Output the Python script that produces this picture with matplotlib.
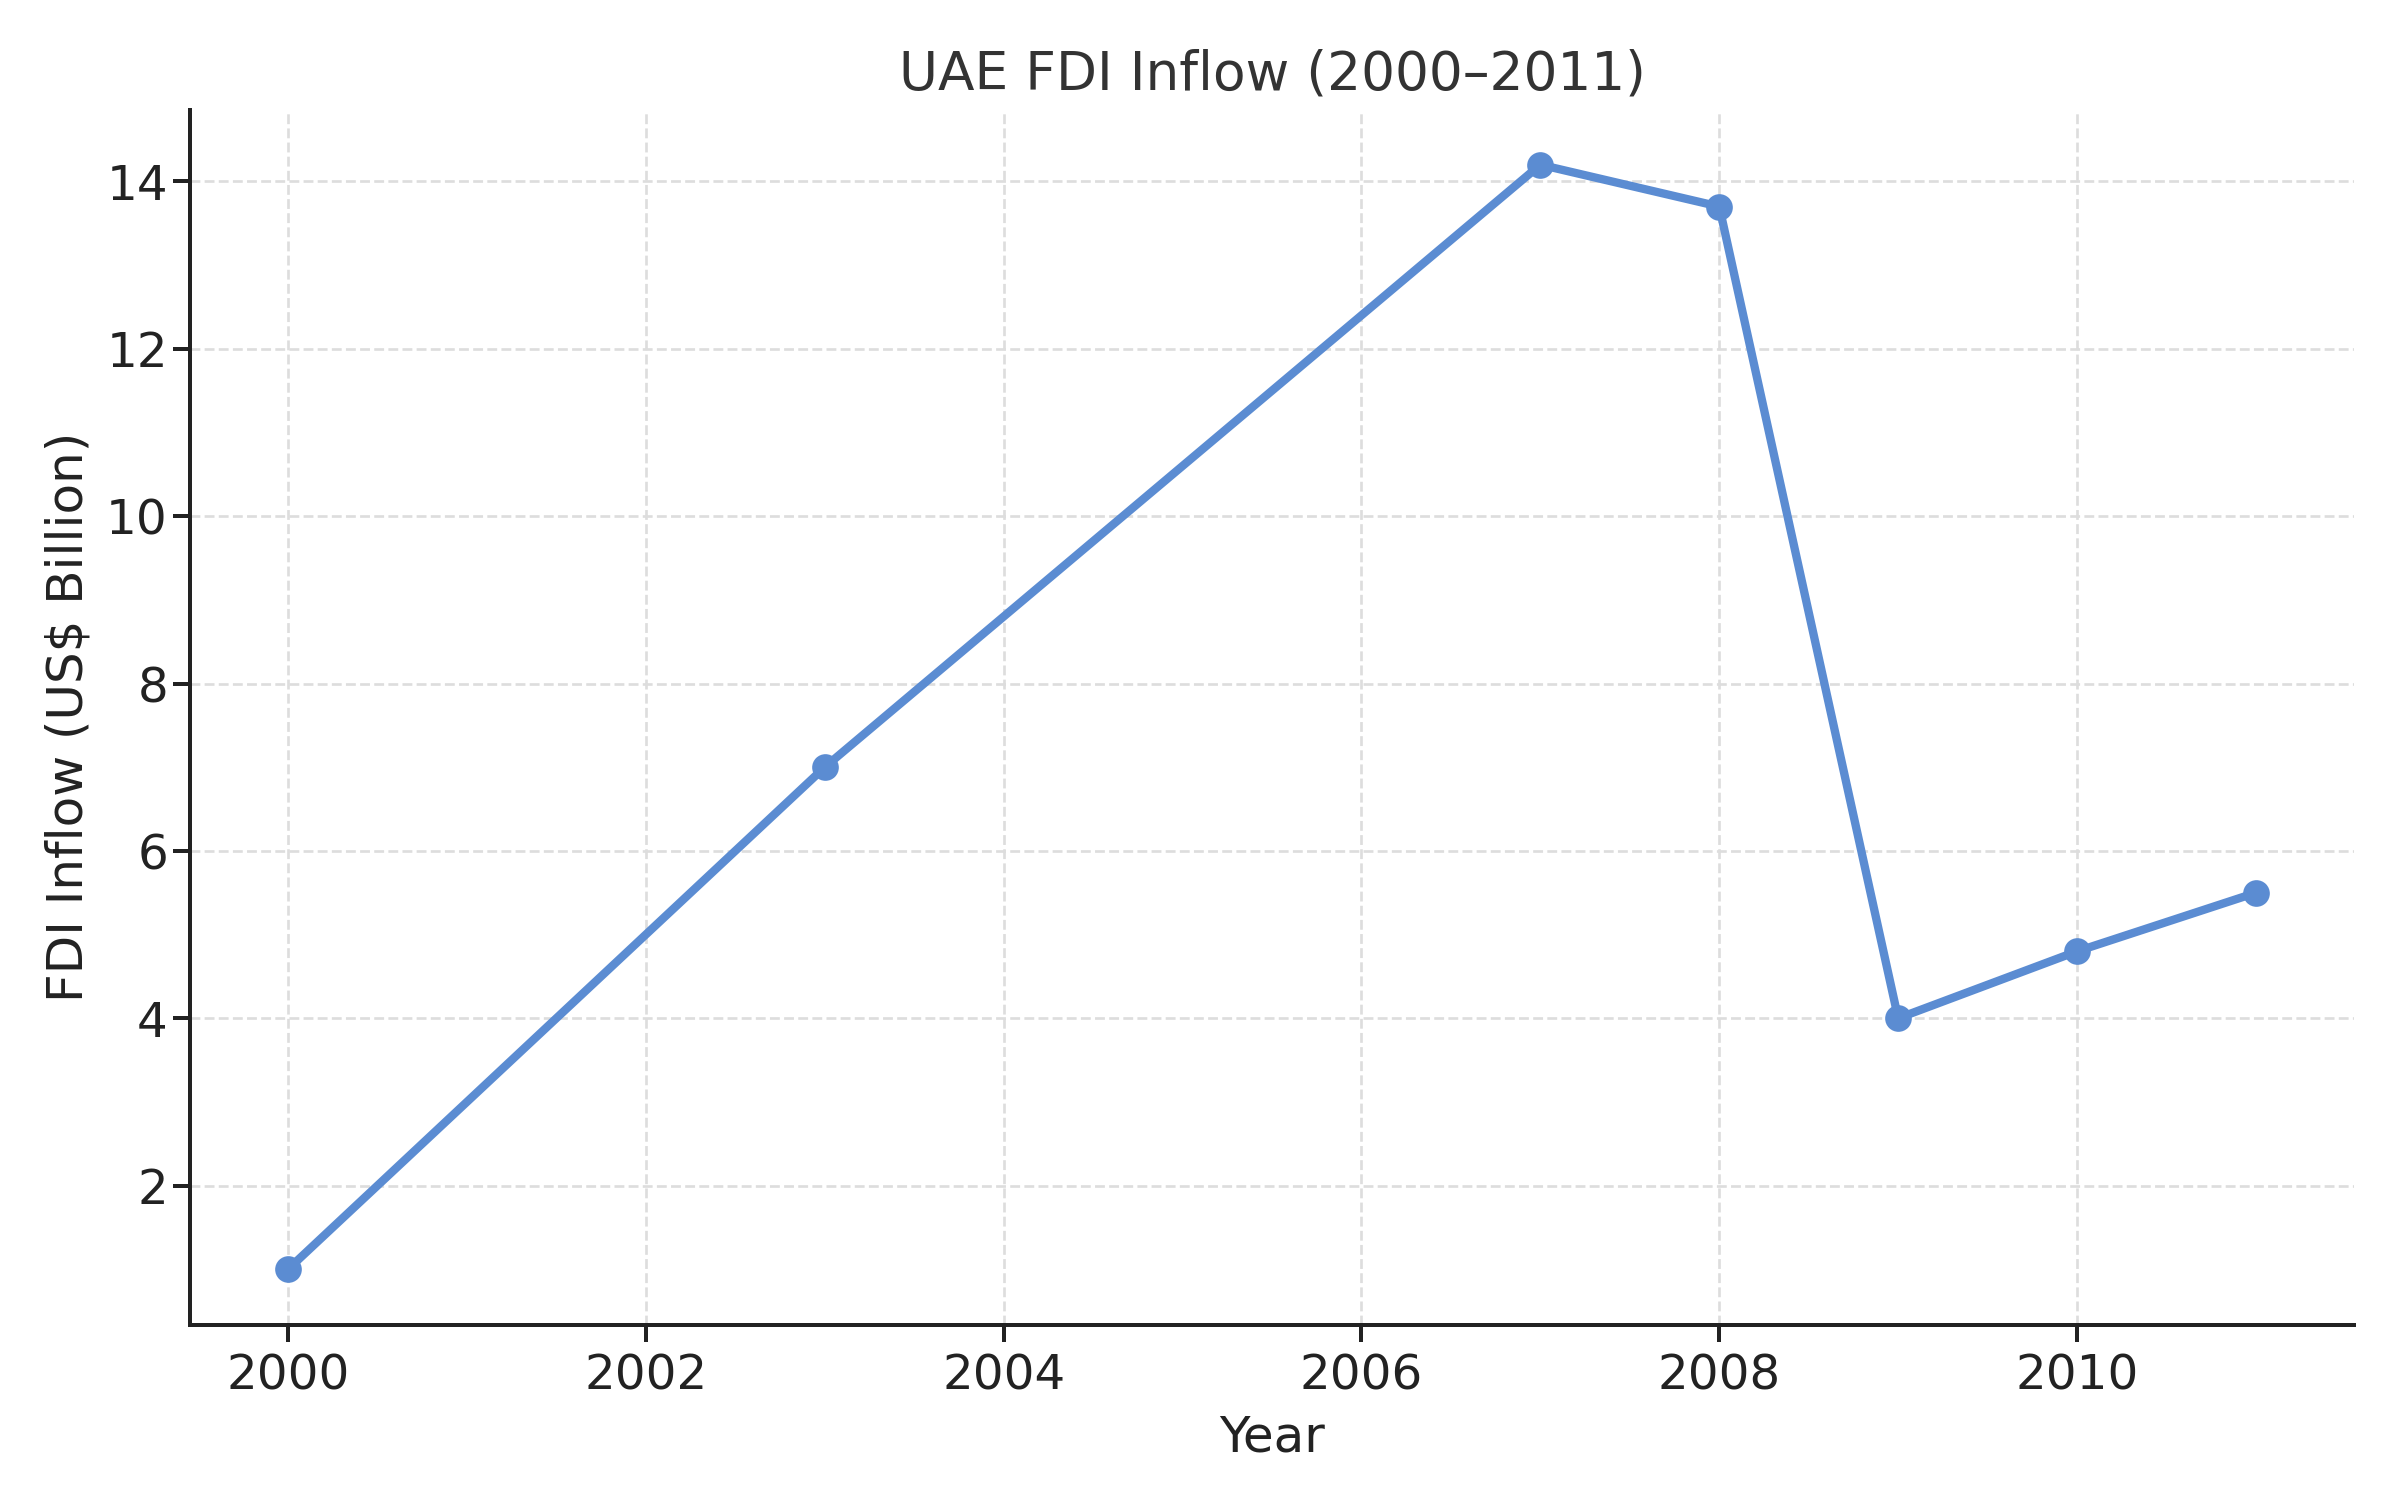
import matplotlib
matplotlib.use("Agg")
import matplotlib.pyplot as plt

# UAE FDI inflow, US$ billion
years = [2000, 2003, 2007, 2008, 2009, 2010, 2011]
fdi = [1.0, 7.0, 14.2, 13.7, 4.0, 4.8, 5.5]

plt.rcParams['font.family'] = ['DejaVu Sans']

fig, ax = plt.subplots(figsize=(10, 6.25), dpi=240)
fig.subplots_adjust(left=0.079, right=0.981, top=0.927, bottom=0.117)

ax.plot(years, fdi, color='#5b8cd2', linewidth=2.5, marker='o', markersize=7)

ax.set_title("UAE FDI Inflow (2000\u20132011)", fontsize=16, color='#333333')
ax.set_xlabel("Year", fontsize=15, color='#222222')
ax.set_ylabel("FDI Inflow (US$ Billion)", fontsize=15, color='#222222')
ax.tick_params(labelsize=14.5, colors='#222222', width=1.2, length=5)
ax.tick_params(axis='y', pad=1.5)

ax.grid(True, linestyle='--', color='#dddddd', linewidth=0.8)
ax.spines['top'].set_visible(False)
ax.spines['right'].set_visible(False)
for s in ('left', 'bottom'):
    ax.spines[s].set_linewidth(1.2)
    ax.spines[s].set_color('#222222')

fig.savefig('out.png', dpi=240)
